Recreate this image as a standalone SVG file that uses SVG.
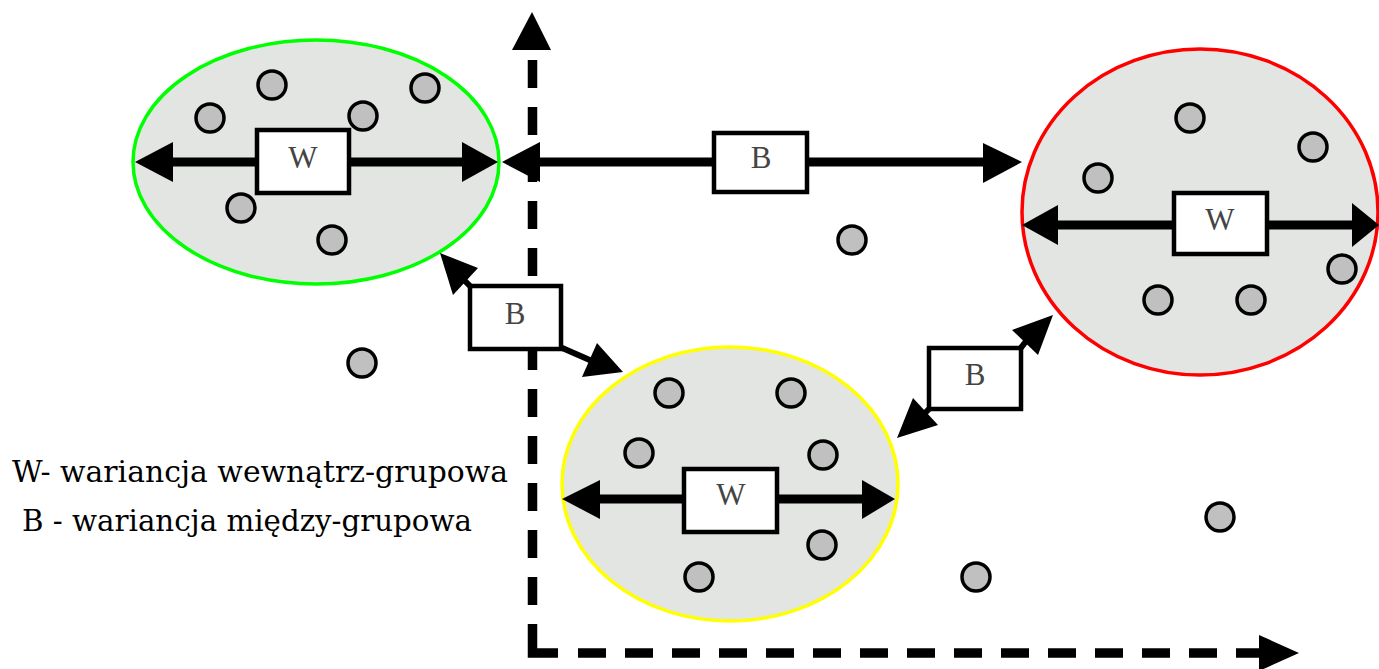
<svg xmlns="http://www.w3.org/2000/svg" width="1379" height="669" viewBox="0 0 1379 669">
<style>
.cl{fill:#e2e5e2;stroke-width:3.5}
.pt{fill:#c0c0c0;stroke:#000;stroke-width:3.5}
.bx{fill:#fff;stroke:#000;stroke-width:4.5}
.lb{font-family:"Liberation Serif","Times New Roman",serif;font-size:31px;fill:#444;text-anchor:middle}
.ln{stroke:#000;fill:none}
.ah{fill:#000}
.ax{stroke:#000;stroke-width:9.5;fill:none}
.lg{font-family:"DejaVu Serif","Liberation Serif",serif;font-size:29px;fill:#000}
</style>
<rect width="1379" height="669" fill="#fff"/>
<g id="cluster-green"><ellipse class="cl" cx="316" cy="162" rx="183" ry="122" stroke="#00ff00"/></g>
<g id="cluster-red"><ellipse class="cl" cx="1200" cy="212" rx="178" ry="163" stroke="#ff0000"/></g>
<g id="cluster-yellow"><ellipse class="cl" cx="730" cy="484" rx="168" ry="137" stroke="#ffff00"/></g>
<g id="connectors">
  <g id="axes">
    <path class="ax" d="M532.5 60 V624" stroke-dasharray="28 19"/>
    <path class="ax" d="M532.5 624 V653 H558"/>
    <path class="ax" d="M578 653 H1262" stroke-dasharray="28 19"/>
    <polygon class="ah" points="532,12 512,50 551,50"/>
    <polygon class="ah" points="1299,653 1259,635 1259,671"/>
  </g>
  <g id="w-green">
    <path class="ln" stroke-width="9" d="M160 162 H480"/>
    <polygon class="ah" points="135,162 173,142 173,182"/>
    <polygon class="ah" points="498,162 462,142 462,182"/>
  </g>
  <g id="b-top">
    <path class="ln" stroke-width="9" d="M520 162 H1000"/>
    <polygon class="ah" points="502,162 540,142 540,182"/>
    <polygon class="ah" points="1022,162 983,143 983,183"/>
  </g>
  <g id="w-red">
    <path class="ln" stroke-width="9" d="M1040 225 H1365"/>
    <polygon class="ah" points="1022,225 1058,205 1058,245"/>
    <polygon class="ah" points="1379,225 1352,203 1352,247"/>
  </g>
  <g id="w-yellow">
    <path class="ln" stroke-width="9" d="M580 499 H880"/>
    <polygon class="ah" points="562,499 600,480 600,519"/>
    <polygon class="ah" points="895,499 862,480 862,519"/>
  </g>
  <g id="b-left">
    <path class="ln" stroke-width="6" d="M462 278 L472 288"/>
    <polygon class="ah" points="440,253 478,268 453,295"/>
    <path class="ln" stroke-width="6" d="M560 347 L592 361"/>
    <polygon class="ah" points="623,372 597,343 582,377"/>
  </g>
  <g id="b-right">
    <path class="ln" stroke-width="6" d="M1020 349 L1027 340"/>
    <polygon class="ah" points="1053,315 1012,330 1038,355"/>
    <path class="ln" stroke-width="6" d="M930 408 L922 416"/>
    <polygon class="ah" points="897,438 913,398 938,425"/>
  </g>
</g>
<g id="box-w-green"><rect class="bx" x="257" y="130" width="92" height="63"/><text class="lb" x="303" y="168">W</text></g>
<g id="box-b-top"><rect class="bx" x="714" y="133" width="93" height="59"/><text class="lb" x="761" y="168">B</text></g>
<g id="box-w-red"><rect class="bx" x="1174" y="193" width="93" height="61"/><text class="lb" x="1220" y="230">W</text></g>
<g id="box-w-yellow"><rect class="bx" x="684" y="469" width="93" height="63"/><text class="lb" x="731" y="505">W</text></g>
<g id="box-b-left"><rect class="bx" x="470" y="286" width="91" height="63"/><text class="lb" x="515" y="324">B</text></g>
<g id="box-b-right"><rect class="bx" x="929" y="348" width="92" height="61"/><text class="lb" x="975" y="385">B</text></g>
<g id="points">
  <circle class="pt" cx="210" cy="118" r="14"/>
  <circle class="pt" cx="272" cy="85" r="14"/>
  <circle class="pt" cx="363" cy="116" r="14"/>
  <circle class="pt" cx="425" cy="88" r="14"/>
  <circle class="pt" cx="241" cy="208" r="14"/>
  <circle class="pt" cx="332" cy="240" r="14"/>
  <circle class="pt" cx="1190" cy="118" r="14"/>
  <circle class="pt" cx="1313" cy="147" r="14"/>
  <circle class="pt" cx="1098" cy="178" r="14"/>
  <circle class="pt" cx="1342" cy="269" r="14"/>
  <circle class="pt" cx="1158" cy="300" r="14"/>
  <circle class="pt" cx="1251" cy="300" r="14"/>
  <circle class="pt" cx="669" cy="393" r="14"/>
  <circle class="pt" cx="791" cy="393" r="14"/>
  <circle class="pt" cx="639" cy="453" r="14"/>
  <circle class="pt" cx="823" cy="455" r="14"/>
  <circle class="pt" cx="822" cy="545" r="14"/>
  <circle class="pt" cx="699" cy="577" r="14"/>
  <circle class="pt" cx="852" cy="240" r="14"/>
  <circle class="pt" cx="362" cy="363" r="14"/>
  <circle class="pt" cx="1220" cy="517" r="14"/>
  <circle class="pt" cx="976" cy="577" r="14"/>
</g>
<g id="legend">
  <text class="lg" x="12" y="482" textLength="496" lengthAdjust="spacingAndGlyphs">W- wariancja wewnątrz-grupowa</text>
  <text class="lg" x="22" y="531" textLength="450" lengthAdjust="spacingAndGlyphs">B - wariancja między-grupowa</text>
</g>
</svg>
